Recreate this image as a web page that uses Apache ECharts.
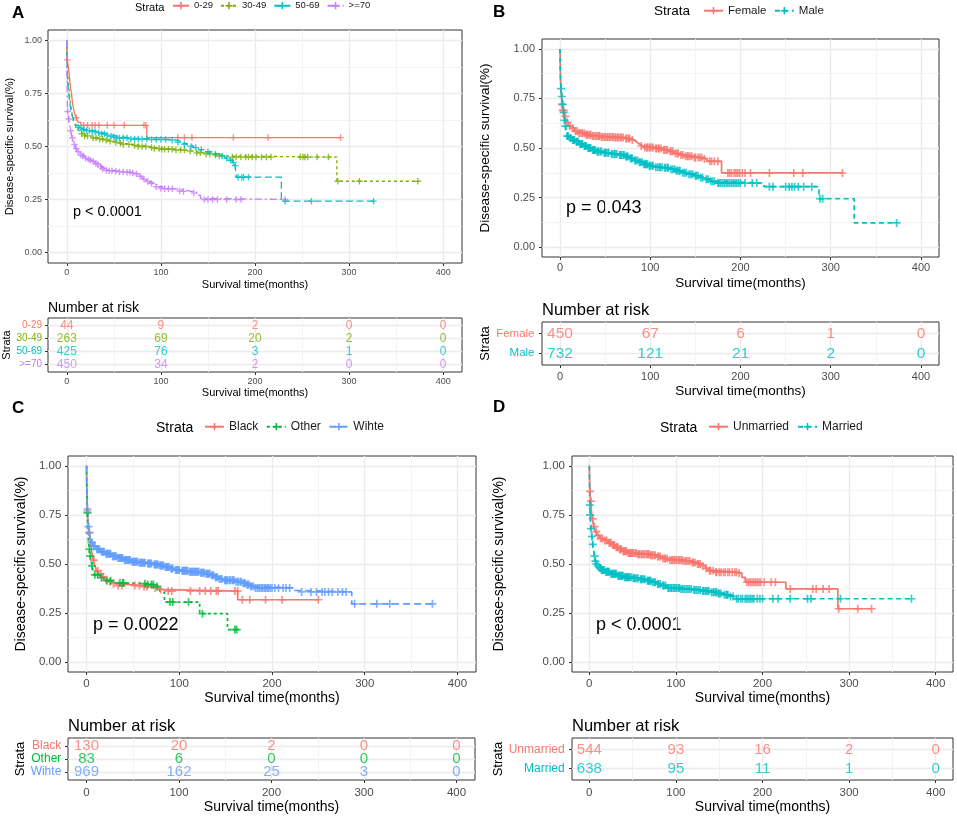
<!DOCTYPE html>
<html><head><meta charset="utf-8">
<script src="https://cdn.jsdelivr.net/npm/echarts@6/dist/echarts.min.js"></script>
<style>html,body{margin:0;padding:0;background:#fff}#c{width:957px;height:818px}</style>
</head><body><div id="c"></div><script>
const FONT = '"Liberation Sans", Arial, sans-serif';
const xTicks = [0, 100, 200, 300, 400];
const xMinor = [50, 150, 250, 350];
const yTicks = [0, 0.25, 0.5, 0.75, 1];
const yMinor = [0.125, 0.375, 0.625, 0.875];
const riskTimes = [0, 100, 200, 300, 400];

// ---------- Panel A: age ----------
const strataA = ['0-29', '30-49', '50-69', '>=70'];
const colorsA = ['#F8766D', '#7CAE00', '#00BFC4', '#C77CFF'];
const curveA1 = [[0,1],[0.3,0.955],[0.6,0.909],[2,0.864],[3,0.818],[4,0.773],[5,0.75],[6,0.705],[8,0.66],[10,0.636],[12,0.614],[15,0.60],[85,0.542],[291,0.542]];
const censA1 = [[0.5,0.909],[10,0.636],[18,0.6],[22,0.6],[27,0.6],[30,0.6],[34,0.6],[43,0.6],[50,0.6],[61,0.6],[82,0.6],[84,0.6],[118,0.542],[125,0.542],[133,0.542],[177,0.542],[214,0.542],[291,0.542]];
const curveA2 = [[0,1],[0.2,0.93],[0.5,0.88],[1,0.84],[2,0.78],[3,0.74],[4,0.7],[5,0.67],[6,0.64],[7,0.62],[9,0.6],[11,0.585],[13,0.575],[16,0.56],[20,0.55],[25,0.545],[30,0.54],[35,0.535],[40,0.53],[45,0.525],[50,0.52],[55,0.515],[62,0.51],[70,0.505],[78,0.5],[88,0.495],[95,0.49],[105,0.487],[118,0.483],[128,0.478],[135,0.47],[145,0.465],[155,0.46],[165,0.455],[172,0.45],[287,0.336],[374,0.336]];
const censA2 = [[16,0.56],[19,0.55],[22,0.55],[28,0.54],[31,0.54],[35,0.535],[38,0.535],[42,0.53],[46,0.525],[52,0.52],[57,0.515],[60,0.51],[66,0.51],[72,0.505],[76,0.5],[80,0.5],[84,0.5],[90,0.495],[93,0.49],[98,0.49],[101,0.487],[104,0.487],[108,0.487],[112,0.487],[116,0.483],[121,0.483],[125,0.483],[131,0.478],[138,0.47],[142,0.47],[148,0.465],[152,0.465],[158,0.46],[162,0.455],[176,0.45],[180,0.45],[185,0.45],[190,0.45],[193,0.45],[197,0.45],[201,0.45],[207,0.45],[212,0.45],[217,0.45],[248,0.45],[251,0.45],[253,0.45],[256,0.45],[266,0.45],[278,0.45],[288,0.336],[311,0.336],[373,0.336]];
const curveA3 = [[0,1],[0.2,0.9],[0.5,0.84],[1,0.8],[2,0.75],[3,0.71],[4,0.68],[5,0.66],[6,0.64],[8,0.62],[10,0.6],[13,0.59],[17,0.58],[22,0.575],[28,0.57],[33,0.565],[38,0.56],[44,0.553],[50,0.545],[58,0.54],[70,0.535],[90,0.533],[110,0.53],[116,0.525],[122,0.515],[128,0.505],[134,0.495],[140,0.485],[148,0.475],[156,0.465],[163,0.455],[168,0.445],[172,0.435],[176,0.425],[179,0.41],[180,0.355],[228,0.242],[326,0.242]];
const censA3 = [[12,0.59],[15,0.585],[18,0.58],[21,0.575],[24,0.575],[27,0.57],[30,0.57],[34,0.565],[37,0.56],[40,0.56],[43,0.553],[47,0.548],[50,0.545],[53,0.54],[56,0.54],[60,0.54],[64,0.54],[68,0.535],[72,0.535],[76,0.535],[80,0.535],[85,0.535],[90,0.533],[95,0.533],[100,0.533],[105,0.533],[112,0.53],[118,0.52],[125,0.51],[132,0.5],[137,0.495],[143,0.485],[150,0.475],[158,0.465],[165,0.455],[170,0.445],[174,0.435],[177,0.425],[179,0.41],[182,0.355],[186,0.355],[188,0.355],[193,0.355],[232,0.242],[260,0.242],[326,0.242]];
const curveA4 = [[0,1],[0.2,0.8],[0.5,0.7],[1,0.665],[2,0.63],[3,0.6],[4,0.575],[5,0.55],[7,0.52],[9,0.5],[11,0.48],[14,0.465],[18,0.45],[22,0.44],[26,0.43],[30,0.42],[34,0.41],[37,0.4],[40,0.39],[45,0.385],[55,0.38],[62,0.378],[68,0.375],[73,0.37],[77,0.36],[80,0.35],[84,0.34],[88,0.33],[92,0.32],[96,0.31],[102,0.3],[115,0.298],[122,0.29],[130,0.285],[138,0.27],[142,0.255],[145,0.25],[232,0.25]];
const censA4 = [[1,0.665],[2,0.63],[4,0.575],[6,0.54],[8,0.51],[10,0.49],[12,0.475],[15,0.46],[17,0.455],[20,0.445],[23,0.44],[25,0.435],[28,0.43],[31,0.42],[33,0.415],[36,0.405],[38,0.395],[42,0.388],[45,0.385],[48,0.385],[52,0.383],[56,0.38],[60,0.38],[64,0.378],[67,0.378],[70,0.375],[74,0.37],[78,0.36],[82,0.345],[86,0.335],[90,0.325],[95,0.31],[100,0.302],[104,0.3],[108,0.3],[112,0.3],[120,0.29],[124,0.288],[135,0.28],[146,0.25],[150,0.25],[155,0.25],[160,0.25],[170,0.25],[180,0.25],[185,0.25],[232,0.25]];
const riskA1 = [44, 9, 2, 0, 0];
const riskA2 = [263, 69, 20, 2, 0];
const riskA3 = [425, 76, 3, 1, 0];
const riskA4 = [450, 34, 2, 0, 0];
const pA = 'p < 0.0001';

// ---------- Panel B: sex ----------
const strataB = ['Female', 'Male'];
const colorsB = ['#F8766D', '#00BFC4'];
const curveB1 = [[0,1],[0.3,0.9],[0.6,0.84],[1,0.8],[1.5,0.76],[2.5,0.72],[3.5,0.69],[5,0.66],[6.5,0.63],[9,0.61],[12,0.6],[16,0.585],[20,0.575],[28,0.567],[35,0.56],[45,0.555],[60,0.553],[72,0.548],[78,0.54],[82,0.53],[85,0.52],[88,0.51],[92,0.503],[105,0.498],[113,0.49],[120,0.483],[126,0.472],[133,0.465],[138,0.458],[148,0.452],[158,0.445],[163,0.433],[179,0.374],[313,0.374]];
const censB1 = [[2,0.72],[3,0.69],[4,0.69],[6,0.66],[8,0.63],[11,0.61],[14,0.6],[17,0.585],[19,0.585],[22,0.575],[25,0.575],[27,0.575],[30,0.567],[33,0.567],[37,0.56],[40,0.56],[43,0.56],[47,0.555],[50,0.555],[53,0.555],[56,0.555],[59,0.555],[62,0.553],[65,0.553],[68,0.553],[74,0.548],[77,0.548],[80,0.54],[90,0.51],[94,0.503],[97,0.503],[100,0.503],[103,0.503],[107,0.498],[110,0.498],[116,0.49],[118,0.49],[123,0.483],[130,0.472],[136,0.465],[141,0.458],[144,0.458],[150,0.452],[155,0.452],[160,0.445],[171,0.433],[186,0.374],[190,0.374],[195,0.374],[199,0.374],[205,0.374],[211,0.374],[232,0.374],[259,0.374],[269,0.374],[313,0.374],
  [21,0.575],[24,0.575],[29,0.567],[31,0.567],[34,0.567],[36,0.56],[39,0.56],[42,0.56],[44,0.56],[46,0.555],[49,0.555],[52,0.555],[55,0.555],[58,0.555],[61,0.553],[64,0.553],[67,0.553],[70,0.553],[73,0.548],[76,0.548],[96,0.503],[99,0.503],[102,0.503],[106,0.498],[109,0.498],[112,0.498],[115,0.49],[119,0.49],[122,0.483],[125,0.483],[128,0.472],[131,0.472],[134,0.465],[139,0.458],[142,0.458],[146,0.458],[149,0.452],[153,0.452],[157,0.452],[166,0.433],[168,0.433],[175,0.433],[188,0.374],[193,0.374],[197,0.374],[202,0.374]];
const curveB2 = [[0,1],[0.2,0.9],[0.5,0.84],[1,0.8],[2,0.76],[3,0.72],[4,0.68],[5,0.64],[6,0.61],[7,0.585],[8,0.56],[10,0.55],[13,0.54],[17,0.532],[21,0.52],[26,0.51],[30,0.5],[35,0.49],[40,0.482],[48,0.476],[56,0.47],[65,0.465],[72,0.457],[77,0.448],[82,0.437],[87,0.428],[92,0.418],[98,0.41],[105,0.403],[115,0.4],[122,0.393],[128,0.385],[135,0.375],[142,0.368],[148,0.36],[155,0.35],[160,0.342],[166,0.332],[172,0.323],[226,0.305],[287,0.244],[326,0.122],[373,0.122]];
const censB2 = [[1,0.8],[2,0.76],[3,0.72],[4,0.68],[5,0.64],[6,0.61],[8,0.56],[9,0.56],[11,0.55],[14,0.54],[16,0.54],[19,0.532],[23,0.52],[25,0.52],[28,0.51],[32,0.5],[34,0.5],[37,0.49],[39,0.49],[42,0.482],[45,0.482],[50,0.476],[53,0.476],[58,0.47],[61,0.47],[67,0.465],[70,0.465],[74,0.457],[79,0.448],[84,0.437],[89,0.428],[94,0.418],[96,0.418],[100,0.41],[103,0.41],[108,0.403],[111,0.403],[117,0.4],[120,0.4],[125,0.393],[130,0.385],[133,0.385],[138,0.375],[145,0.368],[151,0.36],[158,0.35],[164,0.342],[169,0.332],[175,0.323],[178,0.323],[182,0.323],[186,0.323],[190,0.323],[194,0.323],[198,0.323],[205,0.323],[213,0.323],[218,0.323],[232,0.305],[236,0.305],[250,0.305],[254,0.305],[257,0.305],[260,0.305],[264,0.305],[270,0.305],[279,0.305],[288,0.244],[291,0.244],[373,0.122],
  [12,0.55],[15,0.54],[18,0.532],[20,0.532],[22,0.52],[24,0.52],[27,0.51],[29,0.51],[31,0.5],[33,0.5],[36,0.49],[38,0.49],[41,0.482],[43,0.482],[46,0.482],[49,0.476],[51,0.476],[54,0.476],[57,0.47],[60,0.47],[63,0.47],[66,0.465],[68,0.465],[71,0.465],[73,0.457],[75,0.457],[78,0.448],[80,0.448],[83,0.437],[86,0.437],[88,0.428],[91,0.428],[93,0.418],[95,0.418],[97,0.418],[99,0.41],[102,0.41],[106,0.403],[110,0.403],[113,0.403],[116,0.4],[119,0.4],[123,0.393],[127,0.393],[129,0.385],[132,0.385],[136,0.375],[140,0.375],[143,0.368],[147,0.368],[150,0.36],[153,0.36],[156,0.35],[162,0.342],[167,0.332],[171,0.332],[176,0.323],[180,0.323],[184,0.323],[188,0.323],[192,0.323],[196,0.323],[200,0.323]];
const riskB1 = [450, 67, 6, 1, 0];
const riskB2 = [732, 121, 21, 2, 0];
const pB = 'p = 0.043';

// ---------- Panel C: race ----------
const strataC = ['Black', 'Other', 'Wihte'];
const colorsC = ['#F8766D', '#00BA38', '#619CFF'];
const curveC1 = [[0,1],[0.3,0.87],[0.6,0.81],[1,0.77],[1.5,0.73],[2,0.7],[3,0.66],[4,0.62],[5,0.58],[6,0.55],[7,0.52],[9,0.49],[11,0.465],[13,0.45],[16,0.435],[19,0.42],[23,0.41],[27,0.4],[32,0.39],[60,0.385],[70,0.378],[78,0.37],[82,0.362],[163,0.318],[250,0.318]];
const censC1 = [[1,0.77],[3,0.66],[8,0.52],[12,0.465],[15,0.45],[18,0.435],[21,0.42],[25,0.41],[29,0.4],[34,0.39],[38,0.39],[52,0.39],[57,0.39],[62,0.385],[65,0.385],[74,0.378],[80,0.37],[88,0.362],[92,0.362],[112,0.362],[122,0.362],[128,0.362],[134,0.362],[140,0.362],[142,0.362],[160,0.362],[163,0.362],[168,0.318],[176,0.318],[193,0.318],[211,0.318],[250,0.318]];
const curveC2 = [[0,1],[0.3,0.87],[0.8,0.76],[1.2,0.675],[2,0.62],[3,0.575],[4,0.54],[5,0.51],[6,0.49],[7,0.465],[8,0.445],[14,0.43],[20,0.415],[30,0.403],[45,0.4],[65,0.395],[75,0.385],[78,0.373],[80,0.356],[84,0.306],[122,0.247],[152,0.166],[164,0.166]];
const censC2 = [[1,0.76],[3,0.575],[4,0.54],[6,0.49],[9,0.445],[12,0.445],[16,0.43],[22,0.415],[26,0.415],[36,0.403],[39,0.403],[40,0.403],[63,0.4],[66,0.395],[70,0.395],[72,0.395],[76,0.385],[90,0.306],[93,0.306],[110,0.306],[125,0.247],[160,0.166],[162,0.166]];
const curveC3 = [[0,1],[0.2,0.92],[0.5,0.84],[1,0.78],[1.5,0.73],[2,0.69],[3,0.66],[4,0.63],[5,0.61],[7,0.59],[10,0.575],[15,0.562],[20,0.552],[27,0.54],[33,0.53],[40,0.52],[48,0.512],[56,0.507],[65,0.503],[72,0.498],[78,0.492],[84,0.485],[90,0.477],[95,0.47],[102,0.465],[110,0.46],[122,0.456],[128,0.45],[134,0.443],[138,0.433],[142,0.424],[148,0.417],[160,0.41],[168,0.402],[172,0.395],[176,0.387],[181,0.378],[222,0.365],[230,0.358],[286,0.297],[373,0.297]];
const censC3 = [[1,0.78],[2,0.69],[3,0.66],[5,0.61],[6,0.61],[8,0.59],[9,0.59],[11,0.575],[12,0.575],[14,0.575],[16,0.562],[18,0.562],[21,0.552],[23,0.552],[25,0.552],[28,0.54],[30,0.54],[32,0.54],[35,0.53],[37,0.53],[39,0.53],[42,0.52],[44,0.52],[46,0.52],[50,0.512],[52,0.512],[54,0.512],[58,0.507],[60,0.507],[62,0.507],[67,0.503],[69,0.503],[74,0.498],[76,0.498],[80,0.492],[82,0.492],[86,0.485],[88,0.485],[92,0.477],[97,0.47],[99,0.47],[104,0.465],[106,0.465],[108,0.465],[112,0.46],[114,0.46],[116,0.46],[118,0.46],[120,0.46],[124,0.456],[126,0.456],[130,0.45],[132,0.45],[136,0.443],[140,0.433],[145,0.424],[150,0.417],[152,0.417],[155,0.417],[158,0.417],[163,0.41],[166,0.41],[170,0.402],[174,0.395],[178,0.387],[184,0.378],[187,0.378],[190,0.378],[193,0.378],[196,0.378],[200,0.378],[203,0.378],[207,0.378],[212,0.378],[215,0.378],[219,0.378],[232,0.358],[242,0.358],[248,0.358],[254,0.358],[257,0.358],[261,0.358],[265,0.358],[271,0.358],[276,0.358],[280,0.358],[289,0.297],[313,0.297],[327,0.297],[373,0.297],
  [13,0.575],[17,0.562],[19,0.562],[22,0.552],[24,0.552],[26,0.552],[29,0.54],[31,0.54],[34,0.53],[36,0.53],[38,0.53],[41,0.52],[43,0.52],[45,0.52],[47,0.52],[49,0.512],[51,0.512],[53,0.512],[55,0.512],[57,0.507],[59,0.507],[61,0.507],[63,0.507],[66,0.503],[68,0.503],[70,0.503],[73,0.498],[75,0.498],[77,0.498],[79,0.492],[81,0.492],[83,0.492],[85,0.485],[87,0.485],[89,0.485],[91,0.477],[93,0.477],[96,0.47],[98,0.47],[100,0.47],[103,0.465],[105,0.465],[107,0.465],[109,0.465],[111,0.46],[113,0.46],[115,0.46],[117,0.46],[119,0.46],[121,0.46],[123,0.456],[125,0.456],[127,0.456],[129,0.45],[131,0.45],[133,0.45],[135,0.443],[137,0.443],[139,0.433],[141,0.433],[143,0.424],[146,0.424],[149,0.417],[151,0.417],[154,0.417],[157,0.417],[159,0.417],[161,0.41],[164,0.41],[167,0.41],[169,0.402],[171,0.402],[173,0.395],[175,0.395],[177,0.387],[180,0.387],[182,0.378],[186,0.378],[189,0.378],[192,0.378],[195,0.378],[198,0.378]];
const riskC1 = [130, 20, 2, 0, 0];
const riskC2 = [83, 6, 0, 0, 0];
const riskC3 = [969, 162, 25, 3, 0];
const pC = 'p = 0.0022';

// ---------- Panel D: marital status ----------
const strataD = ['Unmarried', 'Married'];
const colorsD = ['#F8766D', '#00BFC4'];
const curveD1 = [[0,1],[0.3,0.93],[0.6,0.87],[1.5,0.82],[2.5,0.77],[3.5,0.73],[5,0.69],[7,0.665],[9,0.645],[12,0.63],[16,0.62],[22,0.608],[26,0.597],[30,0.585],[34,0.575],[38,0.565],[44,0.556],[55,0.55],[70,0.545],[78,0.538],[84,0.528],[92,0.52],[108,0.515],[118,0.508],[124,0.5],[130,0.49],[134,0.478],[138,0.466],[145,0.458],[172,0.453],[176,0.432],[180,0.407],[227,0.373],[287,0.272],[326,0.272]];
const censD1 = [[1,0.87],[2,0.82],[4,0.73],[6,0.69],[8,0.665],[10,0.645],[13,0.63],[15,0.63],[18,0.62],[20,0.62],[24,0.608],[28,0.597],[32,0.585],[36,0.575],[40,0.565],[42,0.565],[46,0.556],[48,0.556],[50,0.556],[53,0.556],[57,0.55],[60,0.55],[63,0.55],[66,0.55],[68,0.55],[72,0.545],[75,0.545],[80,0.538],[87,0.528],[90,0.528],[95,0.52],[98,0.52],[101,0.52],[104,0.52],[106,0.52],[111,0.515],[114,0.515],[120,0.508],[122,0.508],[126,0.5],[128,0.5],[140,0.466],[143,0.466],[147,0.458],[152,0.458],[157,0.458],[160,0.458],[165,0.458],[170,0.458],[182,0.407],[186,0.407],[190,0.407],[194,0.407],[198,0.407],[202,0.407],[210,0.407],[215,0.407],[232,0.373],[258,0.373],[262,0.373],[270,0.373],[277,0.373],[288,0.272],[310,0.272],[326,0.272],
  [23,0.608],[25,0.608],[27,0.597],[29,0.597],[31,0.585],[33,0.585],[35,0.575],[37,0.575],[39,0.565],[41,0.565],[43,0.565],[45,0.556],[47,0.556],[49,0.556],[51,0.556],[54,0.556],[56,0.55],[58,0.55],[61,0.55],[64,0.55],[67,0.55],[69,0.55],[71,0.545],[73,0.545],[76,0.545],[79,0.538],[82,0.538],[85,0.528],[88,0.528],[93,0.52],[96,0.52],[99,0.52],[103,0.52],[107,0.52],[109,0.515],[112,0.515],[116,0.515],[119,0.508],[125,0.5],[131,0.49],[135,0.478],[139,0.466],[146,0.458],[150,0.458],[155,0.458],[162,0.458],[168,0.458],[173,0.453],[184,0.407],[188,0.407],[192,0.407],[196,0.407]];
const curveD2 = [[0,1],[0.3,0.88],[0.6,0.8],[1,0.75],[1.5,0.71],[2,0.68],[3,0.64],[4,0.6],[5,0.57],[6,0.54],[7,0.515],[8,0.5],[9,0.49],[11,0.48],[14,0.47],[18,0.46],[24,0.45],[32,0.44],[40,0.432],[50,0.428],[58,0.422],[66,0.415],[72,0.407],[78,0.398],[84,0.39],[90,0.378],[105,0.373],[120,0.368],[130,0.363],[140,0.356],[148,0.35],[155,0.343],[162,0.335],[168,0.323],[372,0.323]];
const censD2 = [[0.5,0.8],[1,0.75],[2,0.68],[3,0.64],[4,0.6],[6,0.54],[7,0.515],[8,0.5],[10,0.49],[12,0.48],[13,0.48],[15,0.47],[17,0.47],[20,0.46],[22,0.46],[26,0.45],[28,0.45],[30,0.45],[34,0.44],[36,0.44],[38,0.44],[42,0.432],[44,0.432],[46,0.432],[52,0.428],[55,0.428],[60,0.422],[63,0.422],[68,0.415],[70,0.415],[75,0.407],[80,0.398],[86,0.39],[92,0.378],[95,0.378],[98,0.378],[100,0.378],[103,0.378],[108,0.373],[112,0.373],[116,0.373],[122,0.368],[126,0.368],[132,0.363],[135,0.363],[138,0.363],[143,0.356],[146,0.356],[150,0.35],[158,0.343],[160,0.343],[170,0.323],[172,0.323],[177,0.323],[182,0.323],[186,0.323],[190,0.323],[194,0.323],[200,0.323],[212,0.323],[218,0.323],[232,0.323],[252,0.323],[256,0.323],[290,0.323],[372,0.323],
  [14,0.47],[16,0.47],[19,0.46],[21,0.46],[23,0.46],[25,0.45],[27,0.45],[29,0.45],[31,0.45],[33,0.44],[35,0.44],[37,0.44],[39,0.44],[41,0.432],[43,0.432],[45,0.432],[47,0.432],[49,0.432],[51,0.428],[53,0.428],[56,0.428],[59,0.422],[61,0.422],[64,0.422],[67,0.415],[69,0.415],[71,0.415],[73,0.407],[76,0.407],[79,0.398],[82,0.398],[85,0.39],[88,0.39],[91,0.378],[94,0.378],[97,0.378],[101,0.378],[104,0.378],[106,0.373],[110,0.373],[114,0.373],[118,0.373],[121,0.368],[124,0.368],[128,0.368],[131,0.363],[134,0.363],[137,0.363],[141,0.356],[144,0.356],[147,0.356],[149,0.35],[152,0.35],[156,0.343],[159,0.343],[163,0.335],[166,0.335],[175,0.323],[180,0.323],[184,0.323],[188,0.323],[197,0.323]];
const riskD1 = [544, 93, 16, 2, 0];
const riskD2 = [638, 95, 11, 1, 0];
const pD = 'p < 0.0001';

// ---------- layout (positions / styles only) ----------
const CROSS = 'path://M-1,-0.21L-0.21,-0.21L-0.21,-1L0.21,-1L0.21,-0.21L1,-0.21L1,0.21L0.21,0.21L0.21,1L-0.21,1L-0.21,0.21L-1,0.21Z';
const panels = [
  { letter:'A', letterX:12, letterY:13, strata:strataA, colors:colorsA,
    curves:[curveA1,curveA2,curveA3,curveA4], cens:[censA1,censA2,censA3,censA4], risk:[riskA1,riskA2,riskA3,riskA4], p:pA,
    dashes:['solid',[3,3],[7,3.5],[7,3,2,3]], lw:1.3, ms:6.5,
    km:{left:48,top:30,width:414,height:233}, rk:{left:48,top:318,width:414,height:54},
    tick:9, title:11, kxm:5, kym:6, kxg:16, kyg:33, rxm:5, rxg:15.5, rym:6, ryf:10, ryg:34, rynf:11,
    lgLeft:172, lgY:7.7, lgW:16, lgGap:7, lgF:9.5, stX:135, stF:11,
    pX:73, pY:211.7, pF:14.5, rtX:48, rtY:307.7, rtF:14, rnF:12 },
  { letter:'B', letterX:493, letterY:12.7, strata:strataB, colors:colorsB,
    curves:[curveB1,curveB2], cens:[censB1,censB2], risk:[riskB1,riskB2], p:pB,
    dashes:['solid',[5,3.5]], lw:1.7, ms:8,
    km:{left:542,top:39,width:397,height:218}, rk:{left:542,top:322,width:397,height:43},
    tick:11, title:13.5, kxm:5.5, kym:7, kxg:19, kyg:50, rxm:6, rxg:19.5, rym:7.5, ryf:11.5, ryg:50, rynf:13,
    lgLeft:703, lgY:11.7, lgW:19, lgGap:7.5, lgF:11.5, stX:654, stF:13.5,
    pX:566, pY:208.3, pF:18, rtX:542, rtY:310, rtF:16.5, rnF:15.5 },
  { letter:'C', letterX:12, letterY:408, strata:strataC, colors:colorsC,
    curves:[curveC1,curveC2,curveC3], cens:[censC1,censC2,censC3], risk:[riskC1,riskC2,riskC3], p:pC,
    dashes:['solid',[3,3],[7,4]], lw:1.7, ms:8,
    km:{left:68,top:456,width:408,height:216}, rk:{left:68,top:738,width:407,height:42},
    tick:11.5, title:14, kxm:6, kym:6.7, kxg:19, kyg:39.5, rxm:7, rxg:20, rym:6.7, ryf:12, ryg:38.5, rynf:13,
    lgLeft:204, lgY:427.7, lgW:19, lgGap:7.5, lgF:12, stX:156, stF:14,
    pX:93, pY:625, pF:18, rtX:68, rtY:726, rtF:16.5, rnF:15 },
  { letter:'D', letterX:493, letterY:407.7, strata:strataD, colors:colorsD,
    curves:[curveD1,curveD2], cens:[censD1,censD2], risk:[riskD1,riskD2], p:pD,
    dashes:['solid',[5,3.5]], lw:1.7, ms:8,
    km:{left:572,top:456,width:381,height:216}, rk:{left:572,top:738,width:381,height:42},
    tick:11.5, title:14, kxm:6, kym:7, kxg:19, kyg:65.8, rxm:7, rxg:20, rym:7.3, ryf:12, ryg:65.8, rynf:13,
    lgLeft:708, lgY:427.7, lgW:19, lgGap:8, lgF:12, stX:660, stF:14,
    pX:596, pY:625, pF:18, rtX:572, rtY:726, rtF:16.5, rnF:15 }
];

const option = { animation:false, backgroundColor:'#ffffff', grid:[], xAxis:[], yAxis:[], series:[], legend:[], graphic:[] };

function mainX(g, P, margin, gap){
  return { type:'value', gridIndex:g, min:-20, max:420, position:'bottom',
    axisLine:{show:false, onZero:false},
    axisTick:{show:true, length:3, lineStyle:{color:'#333333', width:1}, customValues:xTicks},
    axisLabel:{show:true, customValues:xTicks, fontSize:P.tick, color:'#4D4D4D', margin:margin, fontFamily:FONT},
    splitLine:{show:true, lineStyle:{color:'#EBEBEB', width:1.3}},
    name:'Survival time(months)', nameLocation:'middle', nameGap:gap,
    nameTextStyle:{fontSize:P.title, color:'#000', fontFamily:FONT} };
}
function minorX(g){
  return { type:'value', gridIndex:g, min:-20, max:420,
    axisLine:{show:false, onZero:false}, axisTick:{show:false, customValues:xMinor},
    axisLabel:{show:false, customValues:xMinor},
    splitLine:{show:true, lineStyle:{color:'#F2F2F2', width:0.9}} };
}
function kmY(g, P){
  return { type:'value', gridIndex:g, min:-0.05, max:1.05, position:'left',
    axisLine:{show:false, onZero:false},
    axisTick:{show:true, length:3, lineStyle:{color:'#333333', width:1}, customValues:yTicks},
    axisLabel:{show:true, customValues:yTicks, formatter:v => (+v).toFixed(2), fontSize:P.tick, color:'#4D4D4D', margin:P.kym, fontFamily:FONT},
    splitLine:{show:true, lineStyle:{color:'#EBEBEB', width:1.3}},
    name:'Disease-specific survival(%)', nameLocation:'middle', nameGap:P.kyg,
    nameTextStyle:{fontSize:P.title, color:'#000', fontFamily:FONT} };
}
function minorY(g){
  return { type:'value', gridIndex:g, min:-0.05, max:1.05,
    axisLine:{show:false, onZero:false}, axisTick:{show:false, customValues:yMinor},
    axisLabel:{show:false, customValues:yMinor},
    splitLine:{show:true, lineStyle:{color:'#F2F2F2', width:0.9}} };
}
function riskY(g, P){
  const n = P.strata.length;
  const rows = P.strata.map((s, i) => i + 1);
  return { type:'value', gridIndex:g, min:0.4, max:n + 0.6, inverse:true, position:'left',
    axisLine:{show:false, onZero:false},
    axisTick:{show:true, length:3, lineStyle:{color:'#333333', width:1}, customValues:rows},
    axisLabel:{show:true, customValues:rows, fontSize:P.ryf, margin:P.rym, fontFamily:FONT,
      formatter:v => P.strata[Math.round(+v) - 1],
      color:v => P.colors[Math.round(+v) - 1]},
    splitLine:{show:true, lineStyle:{color:'#EBEBEB', width:1.3}},
    name:'Strata', nameLocation:'middle', nameGap:P.ryg,
    nameTextStyle:{fontSize:P.rynf, color:'#000', fontFamily:FONT} };
}
function blankY(g, P){
  return { type:'value', gridIndex:g, min:0.4, max:P.strata.length + 0.6, show:false };
}

panels.forEach((P, pi) => {
  const gK = pi * 2, gR = pi * 2 + 1;
  option.grid.push(Object.assign({show:true, borderColor:'#333333', borderWidth:1, backgroundColor:'#fff'}, P.km));
  option.grid.push(Object.assign({show:true, borderColor:'#333333', borderWidth:1, backgroundColor:'#fff'}, P.rk));
  option.xAxis.push(mainX(gK, P, P.kxm, P.kxg), minorX(gK), mainX(gR, P, P.rxm, P.rxg), minorX(gR));
  option.yAxis.push(kmY(gK, P), minorY(gK), riskY(gR, P), blankY(gR, P));

  P.strata.forEach((name, i) => {
    const c = P.colors[i];
    option.series.push({
      type:'line', name:name, data:P.curves[i], step:'end', xAxisIndex:2*gK, yAxisIndex:2*gK,
      showSymbol:false, symbol:CROSS, symbolSize:P.ms, silent:true, z:2,
      lineStyle:{color:c, width:P.lw, type:P.dashes[i]}, itemStyle:{color:c}
    });
    option.series.push({
      type:'scatter', name:name + ' censored', data:P.cens[i], xAxisIndex:2*gK, yAxisIndex:2*gK,
      symbol:CROSS, symbolSize:P.ms, silent:true, z:3, itemStyle:{color:c}
    });
    option.series.push({
      type:'scatter', name:name + ' at risk', xAxisIndex:2*gR, yAxisIndex:2*gR,
      data:riskTimes.map((t, j) => [t, i + 1, P.risk[i][j]]),
      symbol:'circle', symbolSize:1, silent:true, itemStyle:{color:'rgba(0,0,0,0)'},
      label:{show:true, position:'inside', formatter:p => String(p.value[2]), color:c, fontSize:P.rnF, fontFamily:FONT}
    });
  });

  option.legend.push({
    data:P.strata, left:P.lgLeft, top:P.lgY - 7, orient:'horizontal', padding:0,
    itemWidth:P.lgW, itemHeight:9, itemGap:P.lgGap, selectedMode:false,
    textStyle:{fontSize:P.lgF, color:'#1A1A1A', fontFamily:FONT}
  });

  const txt = (x, y, text, size, weight) => ({ type:'text', x:x, y:y, silent:true,
    style:{ text:text, fontSize:size, fontFamily:FONT, fontWeight:weight || 'normal', fill:'#000', align:'left', verticalAlign:'middle' } });
  option.graphic.push(txt(P.letterX, P.letterY, P.letter, 17, 'bold'));
  option.graphic.push(txt(P.stX, P.lgY, 'Strata', P.stF));
  option.graphic.push(txt(P.pX, P.pY, P.p, P.pF));
  option.graphic.push(txt(P.rtX, P.rtY, 'Number at risk', P.rtF));
});

const chart = echarts.init(document.getElementById('c'), null, {renderer:'canvas'});
chart.setOption(option);
</script></body></html>
